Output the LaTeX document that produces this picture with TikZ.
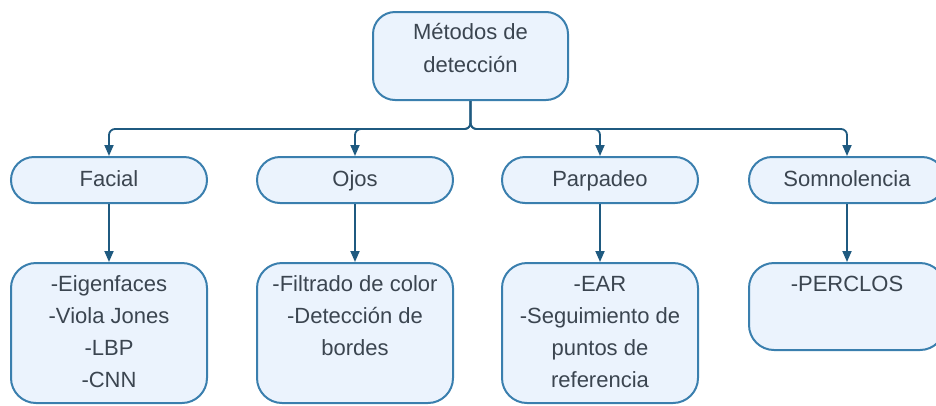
\documentclass[tikz,border=0pt]{standalone}
\usepackage{fontspec}
\setmainfont{Liberation Sans}
\usetikzlibrary{arrows.meta}
\definecolor{boxfill}{HTML}{EBF3FD}
\definecolor{boxline}{HTML}{3A7FAE}
\definecolor{connline}{HTML}{1F5A80}
\definecolor{txt}{HTML}{3B4550}
\tikzset{
  boxbase/.style={draw=boxline, fill=boxfill, line width=2pt, inner sep=0pt, minimum width=196pt},
  pill/.style={boxbase, rounded corners=23pt, minimum height=46pt, text=txt,
    font=\fontsize{22}{32}\selectfont, text height=16pt, text depth=4pt},
  bigbox/.style={boxbase, rounded corners=25pt},
  label/.style={text=txt, font=\fontsize{22}{32}\selectfont, align=center, inner sep=0pt, anchor=base},
  conn/.style={draw=connline, line width=1.8pt, -{Triangle[length=11pt,width=9pt]}}
}
\begin{document}
\begin{tikzpicture}[x=1pt,y=-1pt]
\useasboundingbox (0,0) rectangle (936,405);
\node[bigbox, minimum width=195pt, minimum height=88pt, rounded corners=22pt] (top) at (470.5,56) {};
% base anchor of a multi-line node = baseline of its last line
\node[label, font=\fontsize{22}{33}\selectfont] (toptxt) at (470.5,72) {Métodos de\\detección};

\node[pill] (facial) at (109,180) {Facial};
\node[pill] (ojos) at (355,180) {Ojos};
\node[pill] (parp) at (600,180) {Parpadeo};
\node[pill] (somn) at (847,180) {Somnolencia};

\node[bigbox, minimum height=140pt] (fb) at (109,333) {};
\node[bigbox, minimum height=140pt] (ob) at (355,333) {};
\node[bigbox, minimum height=140pt] (pb) at (600,333) {};
\node[bigbox, minimum height=87pt] (sb) at (847,306.5) {};

\node[label] (ft) at (109,387) {-Eigenfaces\\-Viola Jones\\-LBP\\-CNN};
\node[label] (ot) at (355,355) {-Filtrado de color\\-Detección de\\bordes};
\node[label] (pt) at (600,387) {-EAR\\-Seguimiento de\\puntos de\\referencia};
\node[label] (st) at (847,291) {-PERCLOS};

\foreach \n in {facial,ojos,parp,somn}
  \draw[conn, rounded corners=6pt] (top.south) -- ++(0,28) -| (\n.north);
\draw[conn] (facial.south) -- (fb.north);
\draw[conn] (ojos.south) -- (ob.north);
\draw[conn] (parp.south) -- (pb.north);
\draw[conn] (somn.south) -- (sb.north);
\end{tikzpicture}
\end{document}
